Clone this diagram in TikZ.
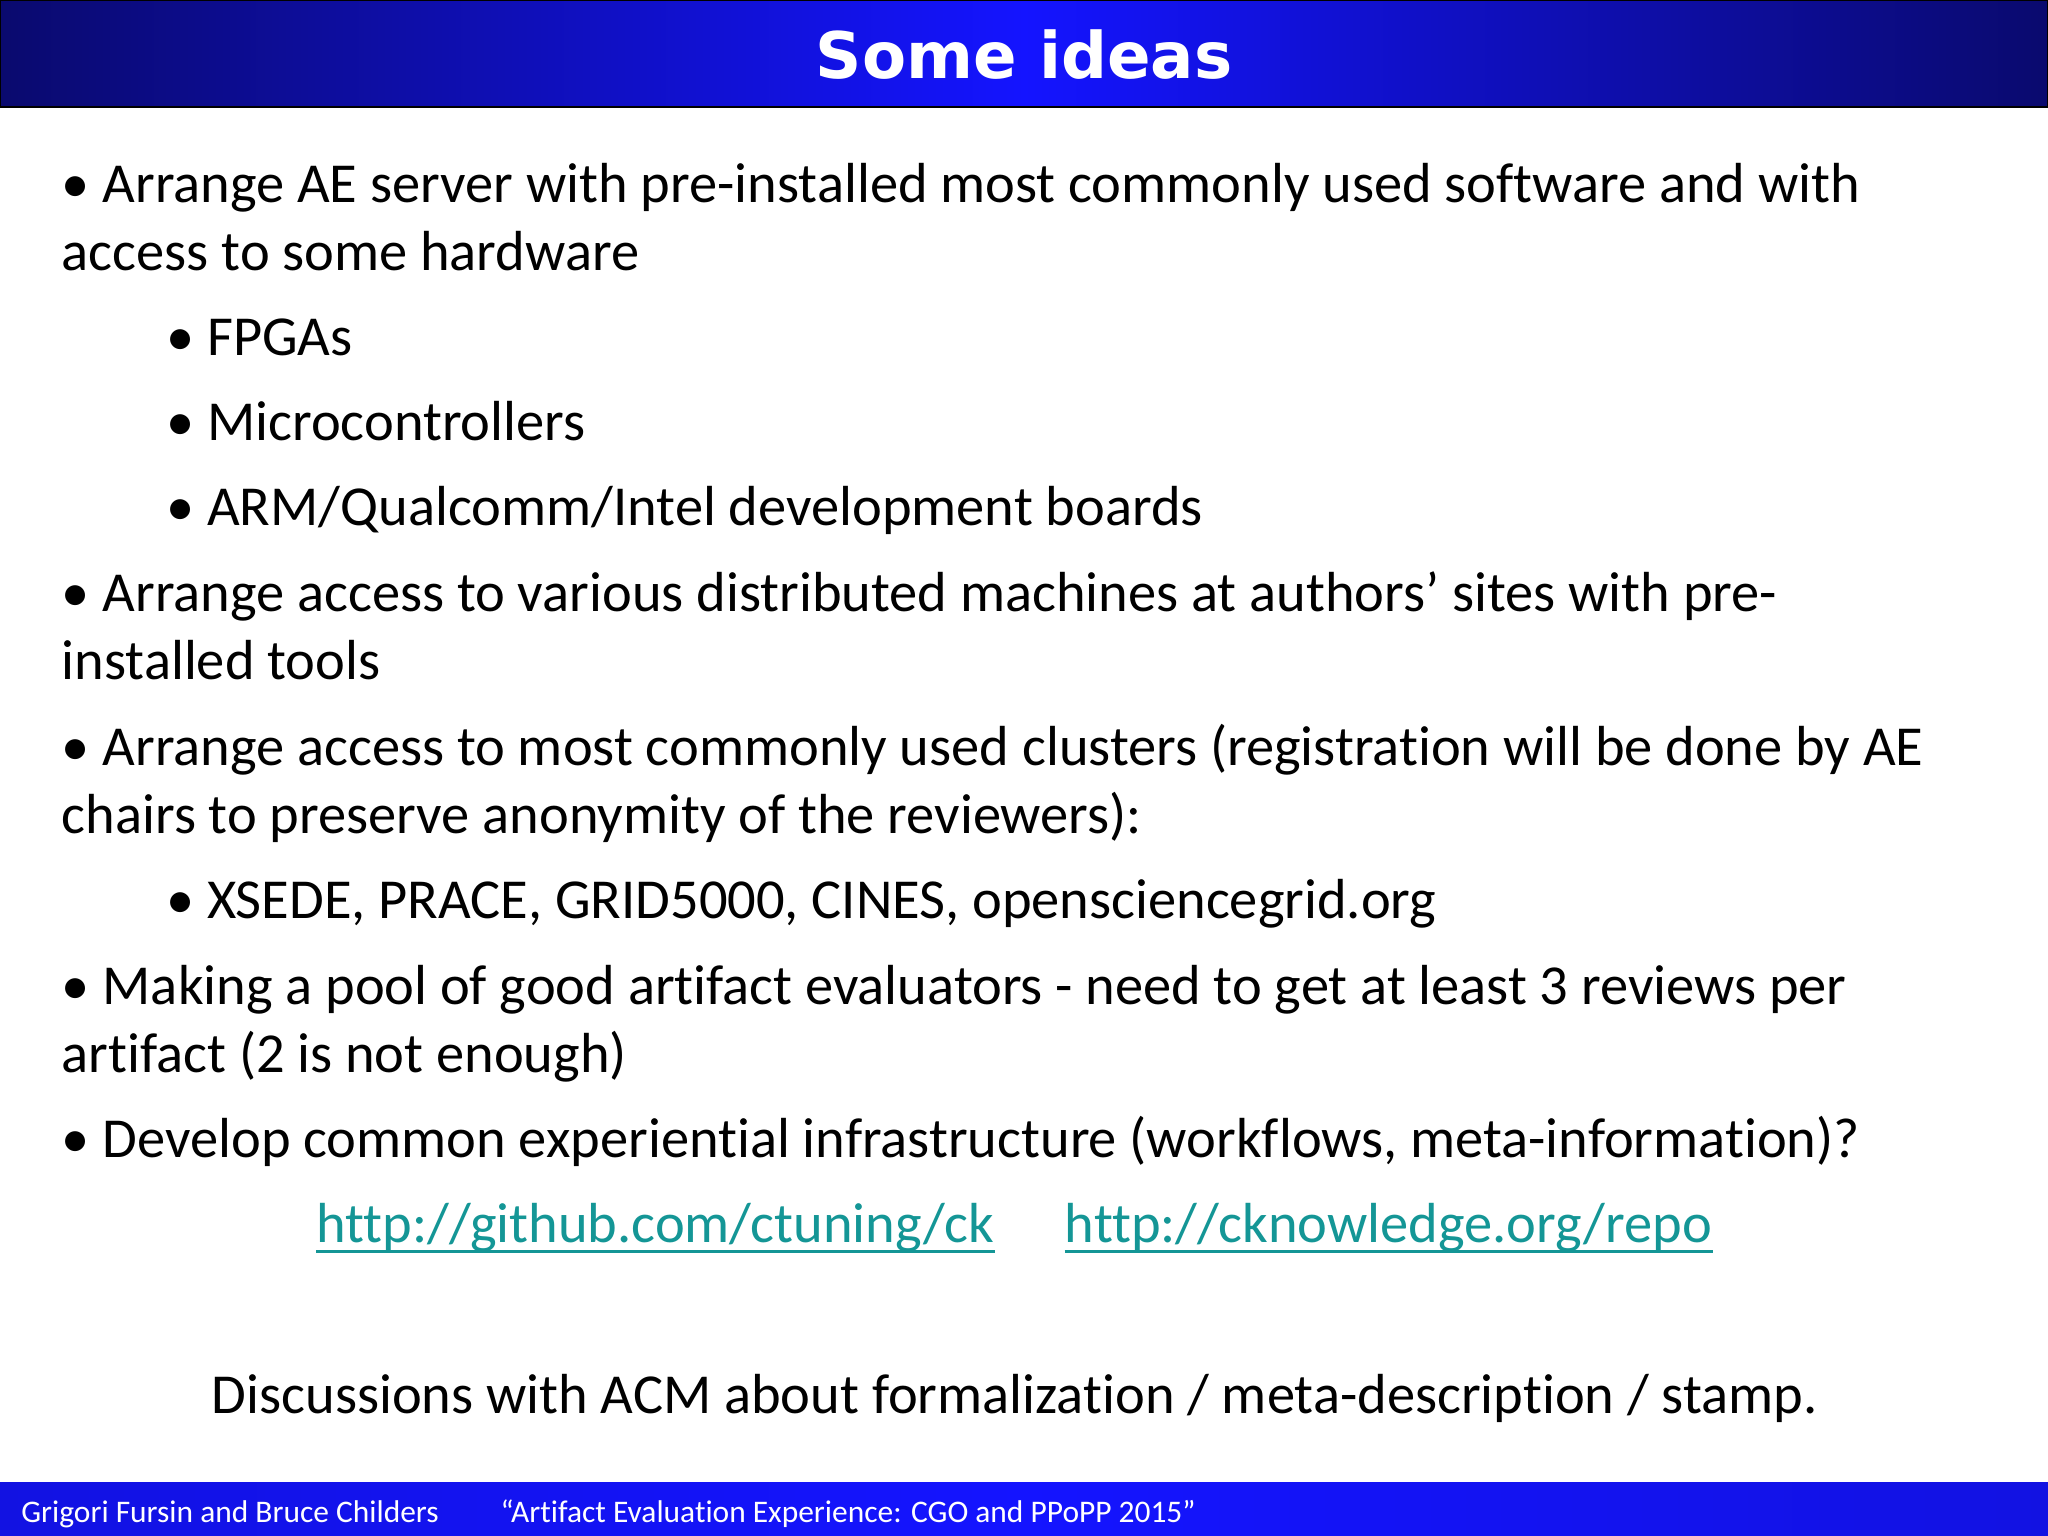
\documentclass[tikz,border=0pt]{standalone}
\usepackage{fontspec}
\setmainfont{Carlito}[RawFeature=-liga]
\newfontfamily\titlefont{DejaVu Sans}
\usetikzlibrary{shadings}
\definecolor{navy}{RGB}{10,10,110}
\definecolor{bright}{RGB}{20,20,255}
\definecolor{linkc}{RGB}{20,150,150}
\begin{document}
\begin{tikzpicture}[x=0.02cm,y=-0.02cm,
  txt/.style={anchor=base west,inner sep=0pt,font=\fontsize{24.6}{29}\selectfont},
  foot/.style={anchor=base west,inner sep=0pt,text=white,font=\fontsize{13.7}{16}\selectfont},
  lnk/.style={anchor=base west,inner sep=0pt,text=linkc,font=\fontsize{24.6}{29}\selectfont}]
\useasboundingbox (0,0) rectangle (1568,1176);
\fill[white] (0,0) rectangle (1568,1176);
\shade[left color=navy,right color=navy,middle color=bright,draw=black,line width=0.8pt] (0,0) rectangle (1568,82);
\node[inner sep=0pt,text=white,font=\titlefont\bfseries\fontsize{28}{34}\selectfont] (title) at (784,42) {Some ideas};
\shade[left color=bright!80!navy,right color=bright!80!navy,middle color=bright] (0,1135) rectangle (1568,1176);
\node[foot] (f1) at (16,1166) {Grigori Fursin and Bruce Childers};
\node[foot] (f2) at (383,1166) {“Artifact Evaluation Experience: CGO and PPoPP 2015”};
\node[txt] (l1) at (47,155) {• Arrange AE server with pre-installed most commonly used software and with};
\node[txt] (l2) at (47,207) {access to some hardware};
\node[txt] (l3) at (127,272) {• FPGAs};
\node[txt] (l4) at (127,337) {• Microcontrollers};
\node[txt] (l5) at (127,402) {• ARM/Qualcomm/Intel development boards};
\node[txt] (l6) at (47,468) {• Arrange access to various distributed machines at authors’ sites with pre-};
\node[txt] (l7) at (47,520) {installed tools};
\node[txt] (l8) at (47,586) {• Arrange access to most commonly used clusters (registration will be done by AE};
\node[txt] (l9) at (47,638) {chairs to preserve anonymity of the reviewers):};
\node[txt] (l10) at (127,703) {• XSEDE, PRACE, GRID5000, CINES, opensciencegrid.org};
\node[txt] (l11) at (47,769) {• Making a pool of good artifact evaluators - need to get at least 3 reviews per};
\node[txt] (l12) at (47,821) {artifact (2 is not enough)};
\node[txt] (l13) at (47,886) {• Develop common experiential infrastructure (workflows, meta-information)?};
\node[lnk] (k1) at (242,951) {http://github.com/ctuning/ck};
\node[lnk] (k2) at (815,951) {http://cknowledge.org/repo};
\draw[linkc,line width=1.2pt] ([yshift=-4pt]k1.base west) -- ([yshift=-4pt]k1.base east);
\draw[linkc,line width=1.2pt] ([yshift=-4pt]k2.base west) -- ([yshift=-4pt]k2.base east);
\node[txt,anchor=base] (l14) at (777,1082) {Discussions with ACM about formalization / meta-description / stamp.};
\end{tikzpicture}
\end{document}
